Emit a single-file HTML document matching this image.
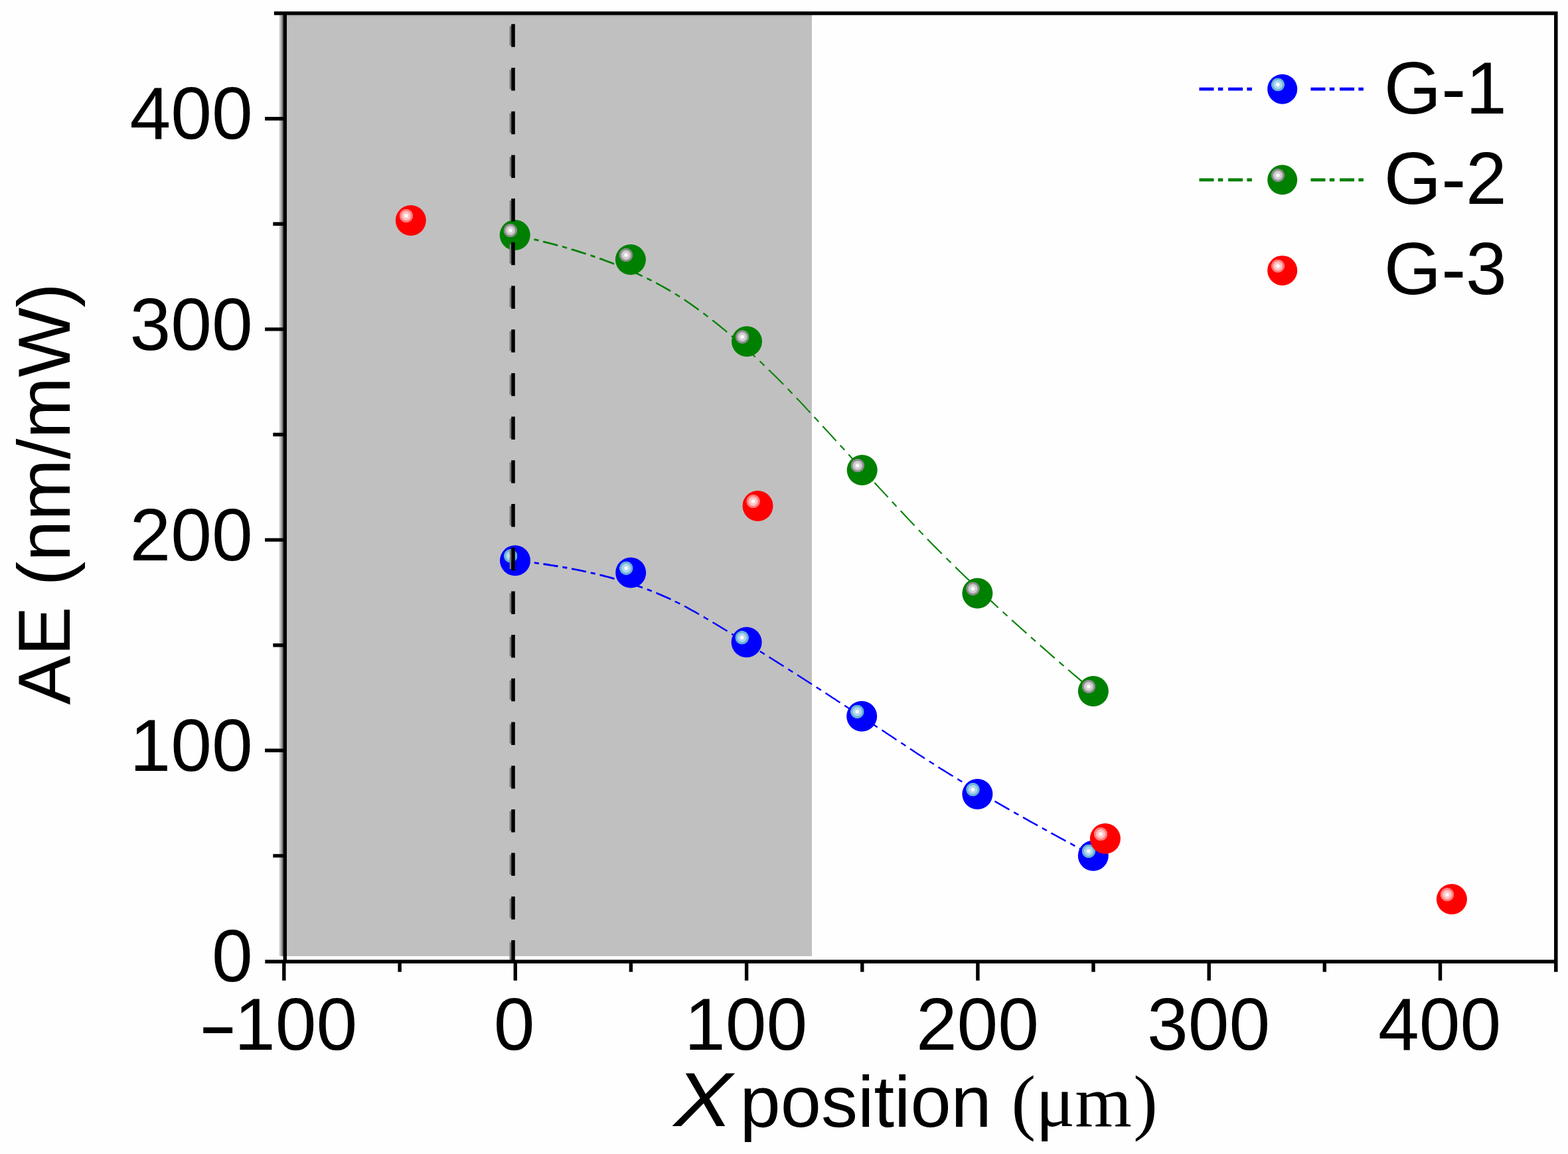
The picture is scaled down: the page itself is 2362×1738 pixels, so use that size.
<!DOCTYPE html>
<html><head><meta charset="utf-8"><title>AE vs X position</title>
<style>html,body{margin:0;padding:0;background:#fefefe;overflow:hidden}svg{display:block}</style></head>
<body><svg width="2362" height="1738" viewBox="0 0 2362 1738">
<defs><radialGradient id="gB" cx="0.35" cy="0.35" r="0.65" fx="0.35" fy="0.35">
 <stop offset="0" stop-color="#ffffff"/><stop offset="0.07" stop-color="#ffffff"/>
 <stop offset="0.12" stop-color="#b0d6ee"/><stop offset="0.2" stop-color="#b0d6ee"/>
 <stop offset="0.27" stop-color="#64b0d4"/><stop offset="0.33" stop-color="#64b0d4"/>
 <stop offset="0.35" stop-color="#0000ff"/><stop offset="1" stop-color="#0000ff"/></radialGradient><radialGradient id="gG" cx="0.35" cy="0.35" r="0.65" fx="0.35" fy="0.35">
 <stop offset="0" stop-color="#ffffff"/><stop offset="0.07" stop-color="#ffffff"/>
 <stop offset="0.12" stop-color="#d0d0d0"/><stop offset="0.2" stop-color="#d0d0d0"/>
 <stop offset="0.27" stop-color="#8c8c8c"/><stop offset="0.33" stop-color="#8c8c8c"/>
 <stop offset="0.35" stop-color="#008000"/><stop offset="1" stop-color="#008000"/></radialGradient><radialGradient id="gR" cx="0.35" cy="0.35" r="0.65" fx="0.35" fy="0.35">
 <stop offset="0" stop-color="#ffffff"/><stop offset="0.07" stop-color="#ffffff"/>
 <stop offset="0.12" stop-color="#ffc4c4"/><stop offset="0.2" stop-color="#ffc4c4"/>
 <stop offset="0.27" stop-color="#ff7878"/><stop offset="0.33" stop-color="#ff7878"/>
 <stop offset="0.35" stop-color="#ff0000"/><stop offset="1" stop-color="#ff0000"/></radialGradient></defs>
<rect x="0" y="0" width="2362" height="1738" fill="#fefefe"/>
<rect x="421" y="23" width="802" height="1417" fill="#c0c0c0"/>
<rect x="421" y="22.8" width="802" height="2.6" fill="#b6b6b6"/>
<rect x="424" y="23" width="2.8" height="1417" fill="#808080"/>
<path d="M1115.7,517.7 L1116.1,518.1 L1119.6,521.2 L1123.0,524.3 L1126.5,527.4 L1130.0,530.6 L1133.5,533.8 L1137.0,537.0 L1137.7,537.7 M1144.5,544.0 L1144.8,544.3 L1148.3,547.6 L1151.5,550.7 M1158.2,557.1 L1158.3,557.3 L1161.8,560.7 L1165.3,564.1 L1168.8,567.6 L1172.3,571.0 L1175.8,574.5 L1179.3,578.1 L1180.1,578.9 M1186.8,585.7 L1187.1,586.1 L1190.6,589.7 L1193.5,592.7 M1199.9,599.4 L1200.2,599.7 L1203.7,603.4 L1207.2,607.1 L1210.6,610.8 L1214.1,614.6 L1217.6,618.4 L1220.5,621.4 M1226.8,628.2 L1226.8,628.3 L1230.3,632.0 L1233.2,635.2 M1239.4,641.9 L1239.4,642.0 L1242.9,645.8 L1246.4,649.6 L1249.9,653.4 L1253.4,657.2 L1256.8,661.0 L1259.6,663.9 M1265.8,670.7 L1266.0,671.0 L1269.5,674.8 L1272.2,677.7 M1278.3,684.4 L1278.6,684.8 L1282.1,688.6 L1285.6,692.4 L1289.1,696.2 L1292.6,700.0 L1296.1,703.8 L1298.5,706.4 M1304.7,713.2 L1304.8,713.3 L1308.3,717.1 L1311.2,720.2 M1317.3,726.9 L1317.4,727.0 L1320.9,730.8 L1324.4,734.6 L1327.9,738.4 L1331.4,742.1 L1334.9,745.9 L1337.7,748.9 M1344.0,755.7 L1344.0,755.8 L1347.5,759.5 L1350.5,762.7 M1356.8,769.4 L1357.1,769.8 L1360.6,773.5 L1364.1,777.2 L1367.5,780.9 L1371.0,784.6 L1374.5,788.3 L1377.5,791.4 M1383.9,798.2 L1384.1,798.4 L1387.6,802.1 L1390.6,805.2 M1397.1,811.9 L1397.2,812.1 L1400.7,815.7 L1404.1,819.2 L1407.6,822.8 L1411.1,826.3 L1414.6,829.8 L1418.1,833.3 L1418.7,833.9 M1425.5,840.7 L1425.9,841.1 L1429.4,844.6 L1432.5,847.6 M1439.2,854.2 L1439.5,854.4 L1442.9,857.8 L1446.4,861.2 L1449.9,864.6 L1453.4,868.0 L1456.9,871.3 L1460.4,874.6 L1461.2,875.4 M1468.0,881.9 L1468.2,882.1 L1471.7,885.4 L1475.0,888.5 M1481.7,894.8 L1481.7,894.8 L1485.2,898.1 L1488.7,901.3 L1492.2,904.6 L1495.7,907.8 L1499.2,911.0 L1502.6,914.2 L1503.7,915.2 M1510.5,921.4 L1510.9,921.8 L1514.4,925.0 L1517.5,927.8" fill="none" stroke="#008000" stroke-width="2.1"/>
<path d="M1102.0,505.8 L1102.1,506.0 L1105.6,508.9 L1109.0,511.9 M1524.2,933.9 L1524.4,934.1 L1527.9,937.3 L1531.4,940.4 L1534.9,943.5 L1538.4,946.7 L1541.9,949.8 L1545.4,952.9 L1546.2,953.7 M1553.0,959.7 L1553.2,959.9 L1556.7,963.0 L1560.0,965.9 M1566.7,971.8 L1566.7,971.8 L1570.2,974.9 L1573.7,977.9 L1577.2,981.0 L1580.7,984.0 L1584.1,987.1 L1587.6,990.1 L1588.7,991.1 M1595.5,997.0 L1595.9,997.3 L1599.4,1000.3 L1602.5,1003.0 M1609.2,1008.8 L1609.4,1009.0 L1612.9,1012.0 L1616.4,1015.0 L1619.9,1017.9 L1623.4,1020.9 L1626.9,1023.9 L1630.3,1026.9 L1631.2,1027.6 M1638.0,1033.4 L1638.2,1033.5 L1641.7,1036.5 L1645.0,1039.3" fill="none" stroke="#008000" stroke-width="2.2"/>
<path d="M1059.5,471.7 L1059.9,472.0 L1063.3,474.6 L1066.5,477.0 M1073.2,482.2 L1073.4,482.4 L1076.9,485.1 L1080.3,487.9 L1083.8,490.7 L1087.3,493.6 L1090.8,496.4 L1094.3,499.3 L1095.2,500.1" fill="none" stroke="#008000" stroke-width="2.3"/>
<path d="M1030.7,451.3 L1031.1,451.5 L1034.6,453.9 L1038.1,456.3 L1041.5,458.7 L1045.0,461.2 L1048.5,463.7 L1052.0,466.2 L1052.7,466.7" fill="none" stroke="#008000" stroke-width="2.4"/>
<path d="M988.2,426.2 L988.4,426.2 L991.9,428.1 L995.4,430.0 L998.8,431.9 L1002.3,433.9 L1005.8,435.9 L1009.3,437.9 L1010.2,438.4 M1017.0,442.5 L1017.1,442.6 L1020.6,444.8 L1024.0,446.9" fill="none" stroke="#008000" stroke-width="2.5"/>
<path d="M945.7,405.9 L946.1,406.1 L949.6,407.6 L953.1,409.1 L956.6,410.7 L960.1,412.3 L963.5,413.9 L967.0,415.6 L967.7,415.9 M974.5,419.2 L974.9,419.4 L978.4,421.1 L981.5,422.7" fill="none" stroke="#008000" stroke-width="2.6"/>
<path d="M889.5,384.6 L889.9,384.7 L893.4,385.9 L896.5,386.9 M903.2,389.3 L903.4,389.4 L906.9,390.6 L910.4,391.9 L913.9,393.2 L917.3,394.5 L920.8,395.8 L924.3,397.2 L925.2,397.5 M932.0,400.2 L932.2,400.3 L935.6,401.7 L939.0,403.1" fill="none" stroke="#008000" stroke-width="2.7"/>
<path d="M775.7,354.0 L776.1,354.1 L779.6,354.8 L783.1,355.6 L786.6,356.4 L790.1,357.1 L793.6,357.9 L797.1,358.7 L797.7,358.9 M804.5,360.5 L804.9,360.6 L808.4,361.4 L811.5,362.2 M818.2,363.8 L818.4,363.9 L821.9,364.8 L825.4,365.6 L828.9,366.6 L832.4,367.5 L835.8,368.4 L839.3,369.4 L840.2,369.6 M847.0,371.5 L847.2,371.5 L850.7,372.5 L854.0,373.5 M860.7,375.4 L861.1,375.6 L864.6,376.6 L868.1,377.7 L871.6,378.8 L875.1,379.9 L878.6,381.0 L882.0,382.1 L882.7,382.3" fill="none" stroke="#008000" stroke-width="2.8"/>
<path d="M1187.3,1007.8 L1187.7,1008.0 L1191.1,1010.2 L1194.3,1012.2 M1201.0,1016.5 L1201.2,1016.6 L1204.6,1018.8 L1208.1,1021.1 L1211.6,1023.3 L1215.1,1025.5 L1218.6,1027.8 L1222.1,1030.0 L1223.0,1030.6 M1229.8,1035.0 L1229.9,1035.1 L1233.4,1037.3 L1236.8,1039.5 M1243.5,1043.8 L1243.9,1044.1 L1247.3,1046.3 L1250.8,1048.6 L1254.3,1050.9 L1257.8,1053.1 L1261.3,1055.4 L1264.8,1057.7 L1265.5,1058.2 M1272.3,1062.6 L1272.6,1062.8 L1276.1,1065.1 L1279.3,1067.2 M1286.0,1071.6 L1286.1,1071.6 L1289.6,1073.9 L1293.1,1076.2 L1296.6,1078.5 L1300.0,1080.8 L1303.5,1083.1 L1307.0,1085.4 L1308.0,1086.0 M1314.8,1090.5 L1314.9,1090.6 L1318.3,1092.9 L1321.8,1095.2 M1328.5,1099.6 L1328.8,1099.8 L1332.3,1102.1 L1335.8,1104.4 L1339.3,1106.7 L1342.7,1109.0 L1346.2,1111.3 L1349.7,1113.7 L1350.5,1114.2 M1357.3,1118.7 L1357.5,1118.8 L1361.0,1121.1 L1364.3,1123.3 M1371.0,1127.7 L1371.1,1127.8 L1374.5,1130.1 L1378.0,1132.4 L1381.5,1134.7 L1385.0,1136.9 L1388.5,1139.2 L1392.0,1141.5 L1393.0,1142.2 M1399.8,1146.6 L1399.8,1146.6 L1403.3,1148.8 L1406.8,1151.1 L1406.8,1151.1" fill="none" stroke="#0000ff" stroke-width="2.4"/>
<path d="M1031.0,912.8 L1031.3,913.0 L1034.8,914.9 L1038.2,916.8 L1041.7,918.8 L1045.2,920.7 L1048.7,922.7 L1052.2,924.7 L1053.0,925.2 M1059.8,929.1 L1060.0,929.2 L1063.5,931.3 L1066.8,933.2 M1073.5,937.2 L1073.5,937.2 L1077.0,939.3 L1080.5,941.4 L1084.0,943.5 L1087.5,945.6 L1091.0,947.7 L1094.4,949.8 L1095.5,950.5 M1102.3,954.6 L1102.7,954.9 L1106.2,957.0 L1109.3,958.9 M1116.0,963.1 L1116.2,963.2 L1119.7,965.4 L1123.2,967.5 L1126.7,969.7 L1130.2,971.9 L1133.6,974.0 L1137.1,976.2 L1138.0,976.7 M1144.8,981.0 L1145.0,981.1 L1148.5,983.3 L1151.8,985.4 M1158.5,989.6 L1158.9,989.8 L1162.4,992.0 L1165.9,994.2 L1169.4,996.4 L1172.8,998.6 L1176.3,1000.8 L1179.8,1003.0 L1180.5,1003.5 M1413.5,1155.3 L1413.7,1155.5 L1417.2,1157.7 L1420.7,1159.9 L1424.2,1162.0 L1427.7,1164.2 L1431.2,1166.4 L1434.7,1168.5 L1435.5,1169.0 M1442.3,1173.2 L1442.5,1173.3 L1446.0,1175.5 L1449.3,1177.5 M1456.0,1181.5 L1456.4,1181.8 L1459.9,1183.9 L1463.4,1186.0 L1466.9,1188.1 L1470.4,1190.1 L1473.9,1192.2 L1477.3,1194.3 L1478.0,1194.7 M1484.8,1198.7 L1485.2,1198.9 L1488.7,1200.9 L1491.8,1202.8 M1498.5,1206.7 L1498.7,1206.8 L1502.2,1208.8 L1505.7,1210.8 L1509.1,1212.8 L1512.6,1214.8 L1516.1,1216.8 L1519.6,1218.8 L1520.5,1219.3 M1527.3,1223.2 L1527.4,1223.3 L1530.9,1225.3 L1534.3,1227.2 M1541.0,1231.0 L1541.4,1231.2 L1544.9,1233.1 L1548.4,1235.1 L1551.8,1237.1 L1555.3,1239.0 L1558.8,1240.9 L1562.3,1242.9 L1563.0,1243.3 M1569.8,1247.1 L1570.1,1247.2 L1573.6,1249.2 L1576.8,1250.9 M1583.5,1254.6 L1583.6,1254.7 L1587.1,1256.6 L1590.6,1258.5 L1594.1,1260.4 L1597.6,1262.3 L1601.1,1264.2 L1604.5,1266.1 L1605.5,1266.6" fill="none" stroke="#0000ff" stroke-width="2.5"/>
<path d="M1017.3,905.8 L1017.3,905.9 L1020.8,907.6 L1024.3,909.3 M1612.3,1270.3 L1612.4,1270.3 L1615.9,1272.2 L1619.3,1274.1 M1626.0,1277.7 L1626.3,1277.9 L1629.8,1279.7 L1633.3,1281.6 L1636.8,1283.5 L1640.3,1285.3 L1643.8,1287.2 L1646.8,1288.8" fill="none" stroke="#0000ff" stroke-width="2.6"/>
<path d="M946.0,877.7 L946.3,877.8 L949.8,878.9 L953.3,880.0 L956.8,881.2 L960.3,882.4 L963.8,883.6 L967.2,884.8 L968.0,885.1 M974.8,887.6 L975.1,887.7 L978.6,889.1 L981.8,890.3 M988.5,893.0 L988.6,893.0 L992.1,894.5 L995.6,895.9 L999.0,897.4 L1002.5,899.0 L1006.0,900.5 L1009.5,902.1 L1010.5,902.6" fill="none" stroke="#0000ff" stroke-width="2.7"/>
<path d="M861.0,856.5 L861.4,856.6 L864.9,857.3 L868.4,858.0 L871.8,858.7 L875.3,859.4 L878.8,860.1 L882.3,860.9 L883.0,861.0 M889.8,862.5 L890.1,862.6 L893.6,863.4 L896.8,864.2 M903.5,865.8 L903.6,865.8 L907.1,866.7 L910.6,867.6 L914.1,868.5 L917.6,869.4 L921.1,870.3 L924.5,871.3 L925.5,871.6 M932.3,873.5 L932.4,873.5 L935.9,874.6 L939.3,875.6" fill="none" stroke="#0000ff" stroke-width="2.8"/>
<path d="M776.0,844.2 L776.4,844.2 L779.9,844.6 L783.4,845.0 L786.9,845.4 L790.4,845.8 L793.9,846.2 L797.3,846.6 L798.0,846.7 M804.8,847.6 L805.2,847.6 L808.7,848.1 L811.8,848.5 M818.5,849.5 L818.7,849.5 L822.2,850.0 L825.7,850.5 L829.1,851.1 L832.6,851.6 L836.1,852.2 L839.6,852.7 L840.5,852.9 M847.3,854.1 L847.4,854.1 L850.9,854.7 L854.3,855.3" fill="none" stroke="#0000ff" stroke-width="2.9"/>
<circle cx="775.7" cy="354" r="23" fill="url(#gG)"/>
<circle cx="949.9" cy="391" r="23" fill="url(#gG)"/>
<circle cx="1125" cy="514.3" r="23" fill="url(#gG)"/>
<circle cx="1298.7" cy="708" r="23" fill="url(#gG)"/>
<circle cx="1472.4" cy="893.5" r="23" fill="url(#gG)"/>
<circle cx="1646.9" cy="1040.9" r="23" fill="url(#gG)"/>
<circle cx="776" cy="844.2" r="23" fill="url(#gB)"/>
<circle cx="950.2" cy="862.6" r="23" fill="url(#gB)"/>
<circle cx="1124.6" cy="967.2" r="23" fill="url(#gB)"/>
<circle cx="1298.2" cy="1078.7" r="23" fill="url(#gB)"/>
<circle cx="1472.4" cy="1196" r="23" fill="url(#gB)"/>
<circle cx="1646.8" cy="1288.8" r="23" fill="url(#gB)"/>
<circle cx="618.8" cy="331.9" r="23" fill="url(#gR)"/>
<circle cx="1141.5" cy="761.9" r="23" fill="url(#gR)"/>
<circle cx="1664.9" cy="1263" r="23" fill="url(#gR)"/>
<circle cx="2186.9" cy="1354.2" r="23" fill="url(#gR)"/>
<line x1="768.9" y1="39.2" x2="768.9" y2="1446" stroke="#7a7a7a" stroke-width="2.6" stroke-dasharray="29.4 36.3"/>
<line x1="773" y1="36.3" x2="773" y2="1446" stroke="#000" stroke-width="5.6" stroke-dasharray="34.5 31.2"/>
<path d="M412.8,20 H2346.55 M399.3,1448.3 H2346.55 M429.3,17.2 V1448.3 M2343.8,17.2 V1463.8" fill="none" stroke="#000" stroke-width="5.5"/>
<path d="M427.8,1448.3 V1476.8 M602.1,1448.3 V1463.8 M776.3,1448.3 V1476.8 M950.4,1448.3 V1463.8 M1124.6,1448.3 V1476.8 M1298.8,1448.3 V1463.8 M1472.9,1448.3 V1476.8 M1647.0,1448.3 V1463.8 M1821.2,1448.3 V1476.8 M1995.3,1448.3 V1463.8 M2169.5,1448.3 V1476.8 M429.3,1288.9 H411.3 M429.3,1130.3 H399.1 M429.3,971.7 H411.3 M429.3,813.1 H399.1 M429.3,654.5 H411.3 M429.3,495.9 H399.1 M429.3,337.3 H411.3 M429.3,178.7 H399.1" fill="none" stroke="#000" stroke-width="5.4"/>
<text x="380.8" y="1478.2" text-anchor="end" font-family="'Liberation Sans', Arial, Helvetica, sans-serif" font-size="111">0</text>
<text x="380.8" y="1161.0" text-anchor="end" font-family="'Liberation Sans', Arial, Helvetica, sans-serif" font-size="111">100</text>
<text x="380.8" y="843.8" text-anchor="end" font-family="'Liberation Sans', Arial, Helvetica, sans-serif" font-size="111">200</text>
<text x="380.8" y="526.6" text-anchor="end" font-family="'Liberation Sans', Arial, Helvetica, sans-serif" font-size="111">300</text>
<text x="380.8" y="209.4" text-anchor="end" font-family="'Liberation Sans', Arial, Helvetica, sans-serif" font-size="111">400</text>
<text x="774.6" y="1580.6" text-anchor="middle" font-family="'Liberation Sans', Arial, Helvetica, sans-serif" font-size="111">0</text>
<text x="1123.7" y="1580.6" text-anchor="middle" font-family="'Liberation Sans', Arial, Helvetica, sans-serif" font-size="111">100</text>
<text x="1472.5" y="1580.6" text-anchor="middle" font-family="'Liberation Sans', Arial, Helvetica, sans-serif" font-size="111">200</text>
<text x="1820.6" y="1580.6" text-anchor="middle" font-family="'Liberation Sans', Arial, Helvetica, sans-serif" font-size="111">300</text>
<text x="2168.6" y="1580.6" text-anchor="middle" font-family="'Liberation Sans', Arial, Helvetica, sans-serif" font-size="111">400</text>
<text transform="translate(298.3,1580.6) scale(1.62,1)" x="0" y="0" font-family="'Liberation Sans', Arial, Helvetica, sans-serif" font-size="111">-</text>
<text x="353" y="1580.6" font-family="'Liberation Sans', Arial, Helvetica, sans-serif" font-size="111">100</text>
<text transform="translate(1015,1696) scale(1.19,1.035)" x="0" y="0" font-family="'Liberation Sans', Arial, Helvetica, sans-serif" font-style="italic" font-size="111">X</text>
<text x="1114.6" y="1696.5" font-family="'Liberation Sans', Arial, Helvetica, sans-serif" font-size="110">position</text>
<text x="1523.6" y="1696" font-family="'Liberation Serif', 'Times New Roman', serif" font-size="110">(μm</text>
<text x="1707.3" y="1696" font-family="'Liberation Serif', 'Times New Roman', serif" font-size="110">)</text>
<text transform="translate(104.6,1061.5) rotate(-90)" font-family="'Liberation Sans', Arial, Helvetica, sans-serif" font-size="111">AE (nm/mW)</text>
<path d="M1806.5,134.2 H1886 M1974.5,134.2 H2054.5" stroke="#0000ff" stroke-width="4.8" stroke-dasharray="22 6.3 7.5 7.8"/>
<circle cx="1931.7" cy="134.2" r="22.5" fill="url(#gB)"/>
<text x="2084.8" y="171.1" font-family="'Liberation Sans', Arial, Helvetica, sans-serif" font-size="111">G-1</text>
<path d="M1806.5,270.8 H1886 M1974.5,270.8 H2054.5" stroke="#008000" stroke-width="4.8" stroke-dasharray="22 6.3 7.5 7.8"/>
<circle cx="1931.7" cy="270.8" r="22.5" fill="url(#gG)"/>
<text x="2084.8" y="307.2" font-family="'Liberation Sans', Arial, Helvetica, sans-serif" font-size="111">G-2</text>
<circle cx="1931.7" cy="407.4" r="22.5" fill="url(#gR)"/>
<text x="2084.8" y="443.3" font-family="'Liberation Sans', Arial, Helvetica, sans-serif" font-size="111">G-3</text>
</svg></body></html>
